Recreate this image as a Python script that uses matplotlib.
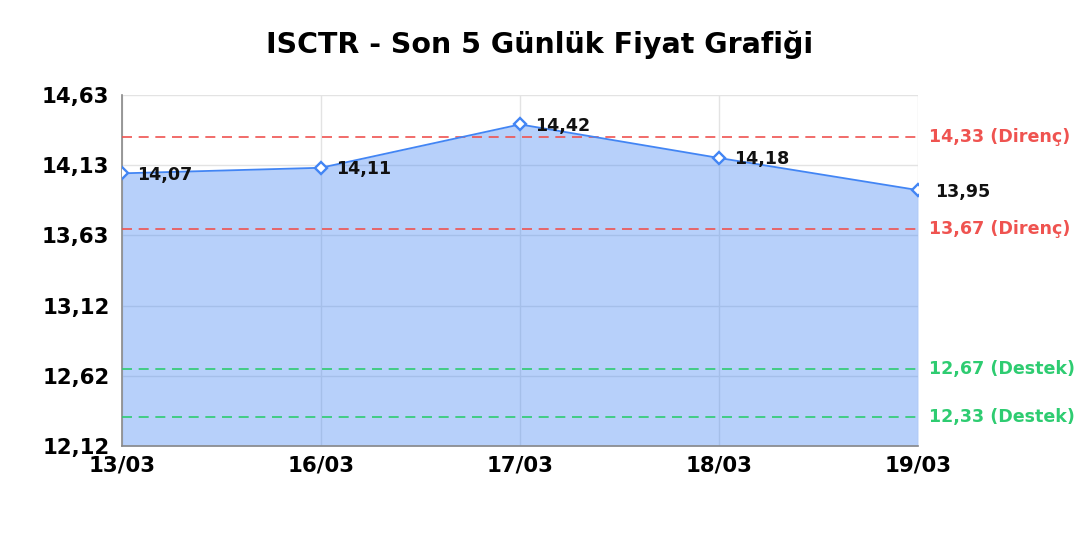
import matplotlib
matplotlib.use("Agg")
from matplotlib import pyplot as plt

dates = ["13/03", "16/03", "17/03", "18/03", "19/03"]
prices = [14.07, 14.11, 14.42, 14.18, 13.95]
resistance = [14.33, 13.67]
support = [12.67, 12.33]
ytick_vals = [12.12, 12.62, 13.12, 13.63, 14.13, 14.63]
ytick_labels = ["12,12", "12,62", "13,12", "13,63", "14,13", "14,63"]

blue = "#4285f4"
red = "#ef5350"
green = "#2ecc71"

plt.rcParams['font.family'] = ['DejaVu Sans']
fig = plt.figure(figsize=(10.8, 5.4), dpi=100)
ax = fig.add_axes([0.113, 0.174, 0.737, 0.650])

x = list(range(len(dates)))
ax.fill_between(x, prices, ytick_vals[0], color=blue, alpha=0.38, linewidth=0, zorder=2)
ax.plot(x, prices, color=blue, linewidth=1.3, zorder=4)
ax.plot(x, prices, 'D', markersize=6.5, markerfacecolor='white',
        markeredgecolor=blue, markeredgewidth=1.7, zorder=5)

for i, p in enumerate(prices):
    dx = 12 if i == len(prices) - 1 else 11
    ax.annotate(f"{p:.2f}".replace(".", ","), (i, p), xytext=(dx, -1),
                textcoords='offset points', ha='left', va='center',
                fontsize=12.6, fontweight='bold', color='#111111', zorder=6)

for lv in resistance:
    ax.axhline(lv, color=red, linestyle=(0, (6, 4)), linewidth=1.2, zorder=3)
    ax.annotate(f"{lv:.2f}".replace(".", ",") + " (Direnç)", (1, lv),
                xycoords=('axes fraction', 'data'), xytext=(8, 0),
                textcoords='offset points', ha='left', va='center',
                fontsize=12.6, fontweight='bold', color=red)
for lv in support:
    ax.axhline(lv, color=green, linestyle=(0, (6, 4)), linewidth=1.2, zorder=3)
    ax.annotate(f"{lv:.2f}".replace(".", ",") + " (Destek)", (1, lv),
                xycoords=('axes fraction', 'data'), xytext=(8, 0),
                textcoords='offset points', ha='left', va='center',
                fontsize=12.6, fontweight='bold', color=green)

ax.set_xlim(0, len(dates) - 1)
ax.set_ylim(ytick_vals[0], ytick_vals[-1])
ax.set_xticks(x)
ax.set_xticklabels(dates, fontsize=15.3, fontweight='bold')
ax.set_yticks(ytick_vals)
ax.set_yticklabels(ytick_labels, fontsize=15.3, fontweight='bold')
ax.tick_params(length=0)
ax.tick_params(axis='y', pad=9)
ax.tick_params(axis='x', pad=7)

ax.grid(True, color='#e3e3e3', linewidth=1, zorder=1)
ax.set_axisbelow(True)
for s in ['top', 'right']:
    ax.spines[s].set_visible(False)
for s in ['left', 'bottom']:
    ax.spines[s].set_color('#888888')
    ax.spines[s].set_linewidth(1.2)

fig.suptitle("ISCTR - Son 5 Günlük Fiyat Grafiği", x=0.5, y=0.918, va='center',
             fontsize=20.5, fontweight='bold')

fig.savefig("out.png", dpi=100)
